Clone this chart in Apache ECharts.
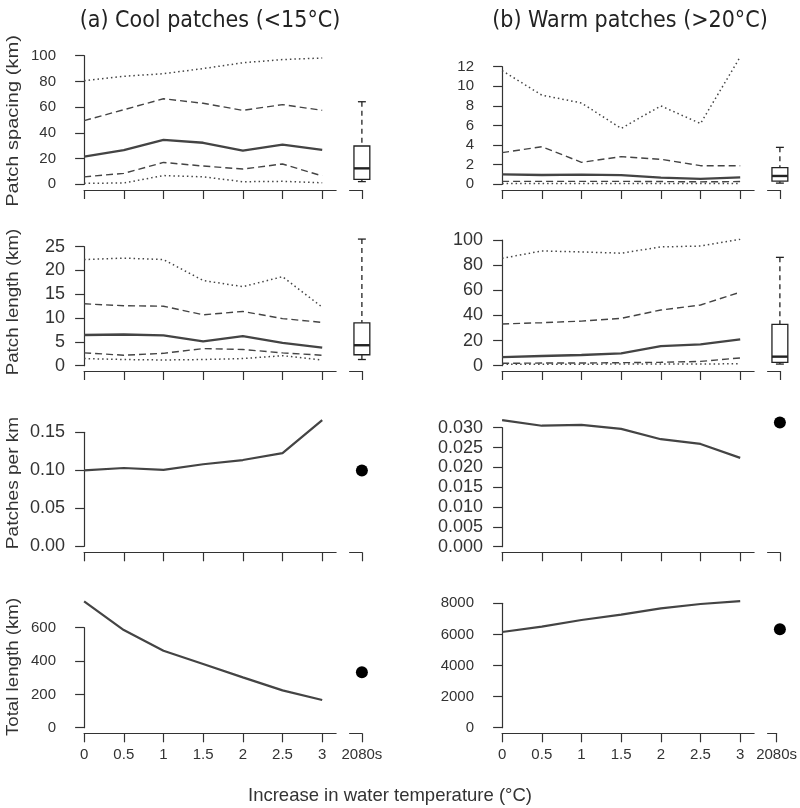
<!DOCTYPE html>
<html>
<head>
<meta charset="utf-8">
<script src="https://cdn.jsdelivr.net/npm/echarts@6/dist/echarts.min.js"></script>
<style>html,body{margin:0;padding:0;background:#fff}#c{width:800px;height:808px}</style>
</head>
<body>
<div id="c"></div>
<script>
// ---------- data ----------
const xLabels = ['0', '0.5', '1', '1.5', '2', '2.5', '3', '2080s'];
const xPos = [0, 1, 2, 3, 4, 5, 6];      // positions of 0..3 °C
const futurePos = 7;                     // position of 2080s

// Patch spacing (km), cool
const coolSpacingP90 = [80.5, 84, 86, 90, 94.5, 97, 98.2];
const coolSpacingP75 = [49.5, 58, 66.5, 63, 57.5, 62, 57.5];
const coolSpacingP50 = [21.5, 26.5, 34.5, 32.3, 26.2, 30.8, 26.8];
const coolSpacingP25 = [5.8, 8.5, 17, 14.2, 11.9, 15.8, 6.5];
const coolSpacingP10 = [0.8, 1.0, 6.8, 5.8, 2.0, 2.3, 1.2];
const coolSpacingBox = [2.1, 3.9, 12.4, 29.8, 64.2];
// Patch spacing (km), warm
const warmSpacingP90 = [11.6, 9.1, 8.3, 5.7, 8.0, 6.2, 13.0];
const warmSpacingP75 = [3.23, 3.84, 2.24, 2.82, 2.55, 1.9, 1.9];
const warmSpacingP50 = [1.02, 0.95, 0.99, 0.93, 0.68, 0.55, 0.71];
const warmSpacingP25 = [0.3, 0.3, 0.3, 0.3, 0.28, 0.25, 0.28];
const warmSpacingP10 = [0.08, 0.08, 0.08, 0.08, 0.07, 0.07, 0.07];
const warmSpacingBox = [0.12, 0.32, 0.85, 1.7, 3.77];
// Patch length (km), cool
const coolLengthP90 = [22.3, 22.6, 22.3, 17.9, 16.6, 18.7, 12.3];
const coolLengthP75 = [13.0, 12.6, 12.5, 10.7, 11.4, 9.9, 9.1];
const coolLengthP50 = [6.45, 6.55, 6.35, 5.1, 6.2, 4.8, 3.8];
const coolLengthP25 = [2.7, 2.2, 2.6, 3.6, 3.4, 2.7, 2.2];
const coolLengthP10 = [1.5, 1.3, 1.2, 1.3, 1.5, 2.1, 1.2];
const coolLengthBox = [1.3, 2.3, 4.3, 9.0, 26.6];
// Patch length (km), warm
const warmLengthP90 = [85.4, 91.3, 90.5, 89.5, 94.5, 95.2, 100.5];
const warmLengthP75 = [33.2, 34.2, 35.5, 37.7, 44.3, 48.3, 58.5];
const warmLengthP50 = [6.9, 7.7, 8.5, 9.8, 15.6, 17, 21];
const warmLengthP25 = [1.9, 2.1, 2.1, 2.4, 2.7, 3.4, 6.2];
const warmLengthP10 = [1.2, 1.2, 1.2, 1.3, 1.3, 1.4, 1.5];
const warmLengthBox = [1.3, 2.7, 7.2, 32.9, 86.2];
// Patches per km
const coolDensity = [0.100, 0.103, 0.1005, 0.108, 0.1135, 0.1225, 0.166];
const coolDensityFuture = 0.0996;
const warmDensity = [0.0319, 0.0305, 0.0307, 0.0297, 0.0271, 0.0259, 0.0224];
const warmDensityFuture = 0.0313;
// Total length (km)
const coolTotal = [758, 586, 462, 382, 302, 224, 166];
const coolTotalFuture = 332;
const warmTotal = [6155, 6498, 6927, 7270, 7677, 7956, 8140];
const warmTotalFuture = 6326;

// y axis ticks per panel: [max, interval, decimals]
const ticksCoolSpacing = [100, 20, 0];
const ticksWarmSpacing = [12, 2, 0];
const ticksCoolLength = [25, 5, 0];
const ticksWarmLength = [100, 20, 0];
const ticksCoolDensity = [0.15, 0.05, 2];
const ticksWarmDensity = [0.03, 0.005, 3];
const ticksCoolTotal = [600, 200, 0];
const ticksWarmTotal = [8000, 2000, 0];

// ---------- layout / style ----------
const FONT = '"Liberation Sans", Arial, sans-serif';
const INK = '#333';
const LINE = '#444';
const X_MIN = -0.28, X_MAX = 7.28;
const colLeft = [73, 491];
const plotW = 300;
const panels = [
  {col: 0, top: 55.7, zero: 184.3, axisY: 190, ticks: ticksCoolSpacing, fs: 15, lm: 17,
   lines: [coolSpacingP90, coolSpacingP75, coolSpacingP50, coolSpacingP25, coolSpacingP10], box: coolSpacingBox},
  {col: 1, top: 66.7, zero: 184.3, axisY: 190, ticks: ticksWarmSpacing, fs: 15, lm: 17,
   lines: [warmSpacingP90, warmSpacingP75, warmSpacingP50, warmSpacingP25, warmSpacingP10], box: warmSpacingBox},
  {col: 0, top: 246.7, zero: 365.7, axisY: 371, ticks: ticksCoolLength, fs: 18, lm: 8,
   lines: [coolLengthP90, coolLengthP75, coolLengthP50, coolLengthP25, coolLengthP10], box: coolLengthBox},
  {col: 1, top: 240, zero: 365.7, axisY: 371, ticks: ticksWarmLength, fs: 18, lm: 8,
   lines: [warmLengthP90, warmLengthP75, warmLengthP50, warmLengthP25, warmLengthP10], box: warmLengthBox},
  {col: 0, top: 432.3, zero: 546.3, axisY: 552.3, ticks: ticksCoolDensity, fs: 18, lm: 8,
   single: coolDensity, point: coolDensityFuture},
  {col: 1, top: 427.7, zero: 546.7, axisY: 552.3, ticks: ticksWarmDensity, fs: 18, lm: 8,
   single: warmDensity, point: warmDensityFuture},
  {col: 0, top: 627.7, zero: 727.7, axisY: 733.3, ticks: ticksCoolTotal, fs: 15, lm: 17, bottom: true,
   single: coolTotal, point: coolTotalFuture},
  {col: 1, top: 603.3, zero: 727.7, axisY: 733.3, ticks: ticksWarmTotal, fs: 15, lm: 17, bottom: true,
   single: warmTotal, point: warmTotalFuture}
];
const lineStyles = [
  {width: 1.5, type: [1.5, 3], color: LINE},
  {width: 1.4, type: [7, 4], color: LINE},
  {width: 2.3, type: 'solid', color: LINE},
  {width: 1.4, type: [7, 4], color: LINE},
  {width: 1.5, type: [1.5, 3], color: LINE}
];

function pxX(col, v) { return colLeft[col] + (v - X_MIN) / (X_MAX - X_MIN) * plotW; }

const grid = [], xAxis = [], yAxis = [], series = [];

function boxRender(params, api) {
  const x = api.value(0);
  const v = [1, 2, 3, 4, 5].map(i => api.value(i));
  const p = v.map(val => api.coord([x, val]));
  const c = p[0][0];
  const hb = api.size([0.2, 0])[0];
  const hc = hb * 0.5;
  const st = {stroke: '#222', lineWidth: 1.3, fill: null};
  return {type: 'group', children: [
    {type: 'line', shape: {x1: c, y1: p[4][1], x2: c, y2: p[3][1]}, style: Object.assign({}, st, {lineDash: [5, 4]})},
    {type: 'line', shape: {x1: c, y1: p[1][1], x2: c, y2: p[0][1]}, style: Object.assign({}, st, {lineDash: [5, 4]})},
    {type: 'line', shape: {x1: c - hc, y1: p[4][1], x2: c + hc, y2: p[4][1]}, style: st},
    {type: 'line', shape: {x1: c - hc, y1: p[0][1], x2: c + hc, y2: p[0][1]}, style: st},
    {type: 'rect', shape: {x: c - hb, y: p[3][1], width: 2 * hb, height: p[1][1] - p[3][1]}, style: {stroke: '#222', lineWidth: 1.3, fill: '#fff'}},
    {type: 'line', shape: {x1: c - hb, y1: p[2][1], x2: c + hb, y2: p[2][1]}, style: {stroke: '#222', lineWidth: 2.4}}
  ]};
}

panels.forEach((pn) => {
  const gi = grid.length;
  grid.push({left: colLeft[pn.col], top: pn.top, width: plotW, height: pn.zero - pn.top, containLabel: false});
  xAxis.push({gridIndex: gi, type: 'value', min: X_MIN, max: X_MAX, show: false});
  const dec = pn.ticks[2];
  yAxis.push({gridIndex: gi, type: 'value', min: 0, max: pn.ticks[0], interval: pn.ticks[1],
    axisLine: {show: true, lineStyle: {color: INK, width: 1.2}},
    axisTick: {show: true, length: 9, lineStyle: {color: INK, width: 1.2}},
    axisLabel: {color: INK, fontFamily: FONT, fontSize: pn.fs, margin: pn.lm,
      formatter: v => Number(v).toFixed(dec)},
    splitLine: {show: false}});
  if (pn.lines) {
    pn.lines.forEach((arr, j) => {
      series.push({type: 'line', xAxisIndex: gi, yAxisIndex: gi, symbol: 'none', clip: false, silent: true,
        lineStyle: lineStyles[j], data: xPos.map((x, i) => [x, arr[i]])});
    });
    series.push({type: 'custom', xAxisIndex: gi, yAxisIndex: gi, clip: false, silent: true,
      renderItem: boxRender, data: [[futurePos].concat(pn.box)]});
  } else {
    series.push({type: 'line', xAxisIndex: gi, yAxisIndex: gi, symbol: 'none', clip: false, silent: true,
      lineStyle: {width: 2.2, color: LINE}, data: xPos.map((x, i) => [x, pn.single[i]])});
    series.push({type: 'scatter', xAxisIndex: gi, yAxisIndex: gi, clip: false, silent: true,
      symbolSize: 12, itemStyle: {color: '#000', opacity: 1}, data: [[futurePos, pn.point]]});
  }
  // x axis drawn as two segments (0..3 and 2080s)
  const segs = [[0, 6.35, xPos], [6.69, 7, [futurePos]]];
  segs.forEach(sg => {
    const si = grid.length;
    const l = pxX(pn.col, sg[0]), r = pxX(pn.col, sg[1]);
    grid.push({left: l, top: pn.axisY - 1, width: r - l, height: 1});
    xAxis.push({gridIndex: si, type: 'value', min: sg[0], max: sg[1], position: 'bottom',
      axisLine: {show: true, onZero: false, lineStyle: {color: INK, width: 1.2}},
      axisTick: {show: true, length: 9, customValues: sg[2], lineStyle: {color: INK, width: 1.2}},
      axisLabel: {show: !!pn.bottom, customValues: sg[2], color: INK, fontFamily: FONT, fontSize: 15, margin: 14,
        formatter: v => xLabels[Math.round(v)]},
      splitLine: {show: false}});
    yAxis.push({gridIndex: si, type: 'value', min: 0, max: 1, show: false});
  });
});

const yTitles = [['Patch spacing (km)', 121, 1.18], ['Patch length (km)', 302, 1.1], ['Patches per km', 483, 1.12], ['Total length (km)', 667, 1.1]];
const TFONT = '23px "Liberation Sans Narrow", "DejaVu Sans Condensed", sans-serif';
const graphic = [
  {type: 'text', x: 210, y: 21, style: {text: '(a) Cool patches (<15°C)', font: TFONT, fill: '#222', textAlign: 'center', textVerticalAlign: 'middle'}},
  {type: 'text', x: 630, y: 21, style: {text: '(b) Warm patches (>20°C)', font: TFONT, fill: '#222', textAlign: 'center', textVerticalAlign: 'middle'}},
  {type: 'text', x: 390, y: 796, style: {text: 'Increase in water temperature (°C)', font: '18.5px ' + FONT, fill: INK, textAlign: 'center', textVerticalAlign: 'middle'}}
];
yTitles.forEach(t => graphic.push({type: 'text', x: 13, y: t[1], rotation: Math.PI / 2, scaleX: t[2],
  style: {text: t[0], font: '17px ' + FONT, fill: INK, textAlign: 'center', textVerticalAlign: 'middle'}}));

const chart = echarts.init(document.getElementById('c'), null, {renderer: 'canvas'});
chart.setOption({animation: false, backgroundColor: '#fff', grid, xAxis, yAxis, series, graphic});
</script>
</body>
</html>
